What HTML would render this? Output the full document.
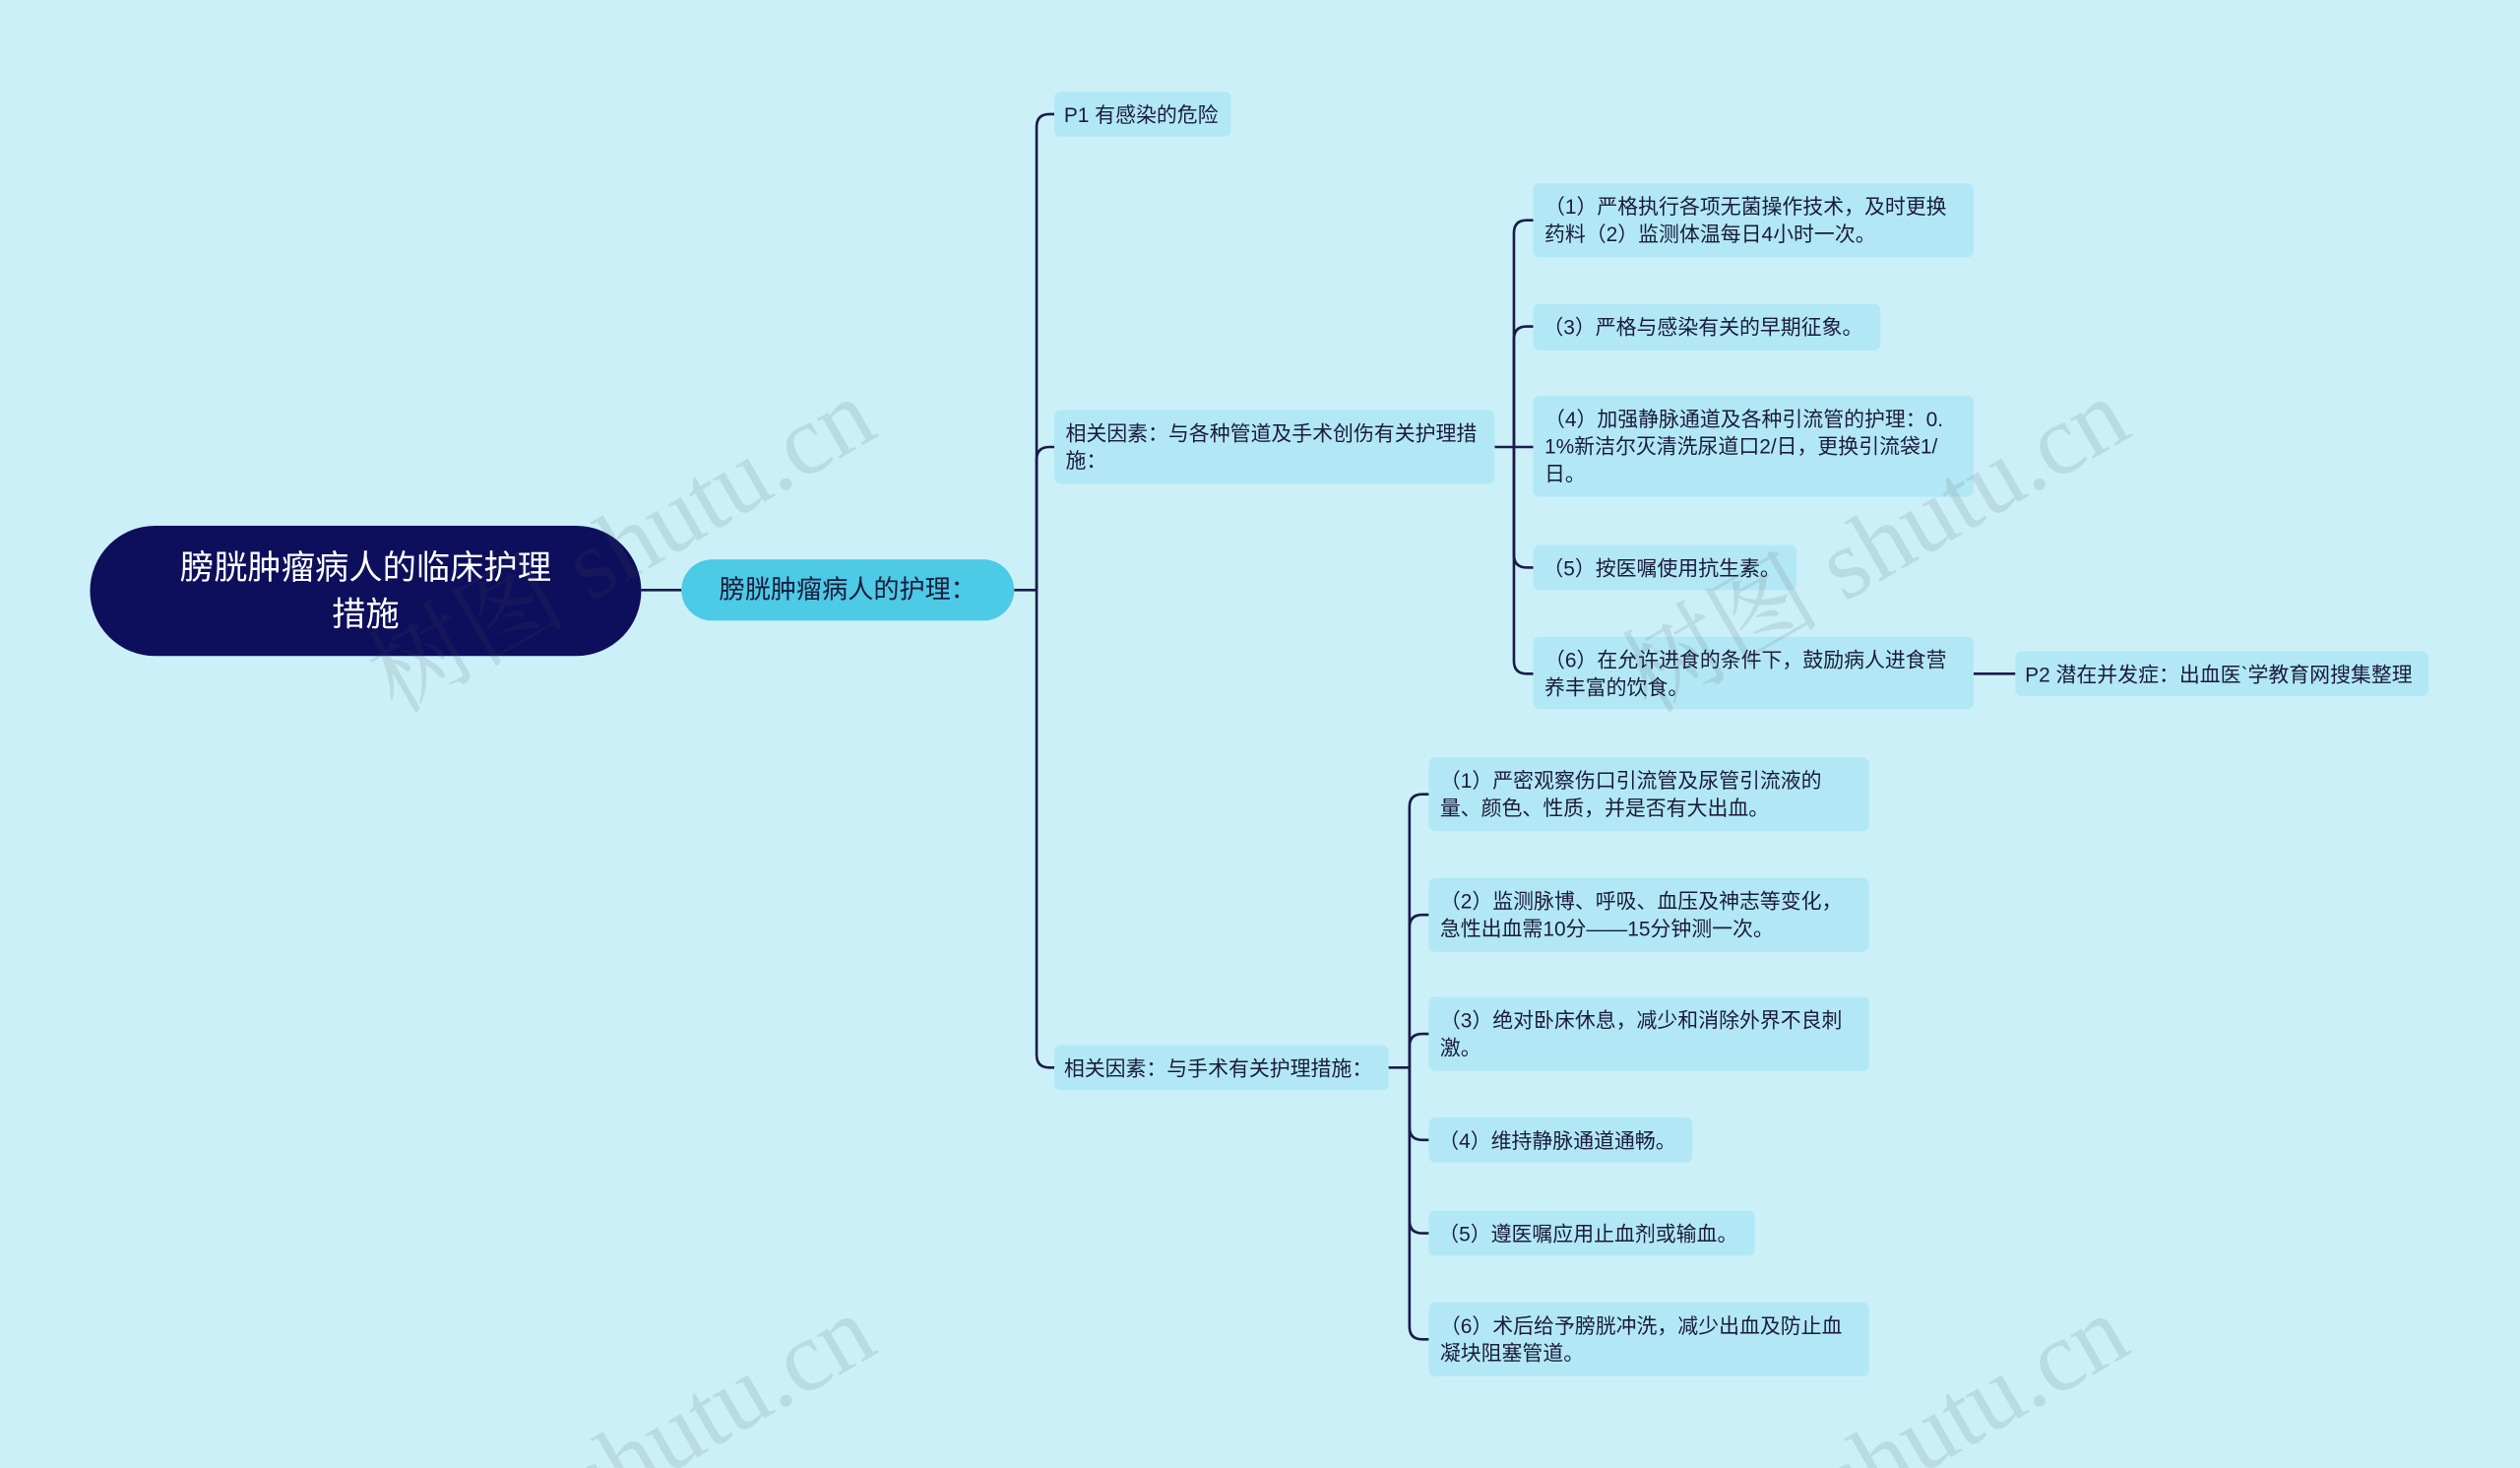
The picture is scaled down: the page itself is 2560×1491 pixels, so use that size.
<!DOCTYPE html>
<html><head><meta charset="utf-8"><style>
html,body{margin:0;padding:0;background:#cbf0f8;overflow:hidden;width:2560px;height:1491px}
#clip{position:absolute;left:0;top:0;width:2560px;height:1491px;overflow:hidden}
#w{position:absolute;left:0;top:0;width:1568px;height:913px;overflow:hidden;transform:scale(1.63265,1.63308);transform-origin:0 0;font-family:"Liberation Sans","Noto Sans CJK SC",sans-serif}
.n{position:absolute;box-sizing:border-box;background:#b2e8f5;border-radius:4px;font-size:12.8px;line-height:17px;color:#1b1b3a;padding:0 7px;display:flex;align-items:center}
.s{white-space:nowrap;padding:0 6px}
.wm{position:absolute;font-size:62px;color:rgba(80,80,80,0.13);transform:rotate(-30deg);white-space:nowrap;font-family:"Liberation Serif","Noto Serif CJK SC",serif}
</style></head><body><div id="clip"><div id="w">
<svg width="1568" height="913" style="position:absolute;left:0;top:0" fill="none" stroke="#1a1a4a" stroke-width="1.6">
<path d="M399 367H424M631 367H645"/>
<path d="M645 367V79Q645 71 653 71H656"/>
<path d="M645 367V286Q645 278 653 278H656"/>
<path d="M645 367V656Q645 664 653 664H656"/>
<path d="M930 278H942"/>
<path d="M942 278V145Q942 137 950 137H954"/>
<path d="M942 278V211Q942 203 950 203H954"/>
<path d="M942 278H954"/>
<path d="M942 278V345Q942 353 950 353H954"/>
<path d="M942 278V411Q942 419 950 419H954"/>
<path d="M1228 419H1254"/>
<path d="M864 664H877"/>
<path d="M877 664V502Q877 494 885 494H889"/>
<path d="M877 664V577Q877 569 885 569H889"/>
<path d="M877 664V651Q877 643 885 643H889"/>
<path d="M877 664V701Q877 709 885 709H889"/>
<path d="M877 664V759Q877 767 885 767H889"/>
<path d="M877 664V825Q877 833 885 833H889"/>
</svg>
<div class="n" style="left:56px;top:327px;width:343px;height:81px;border-radius:41px;background:#0d0f5c;color:#fff;font-size:21px;line-height:29px;justify-content:center;text-align:center;padding:0 46px">膀胱肿瘤病人的临床护理措施</div>
<div class="n s" style="left:424px;top:348px;width:207px;height:38px;border-radius:19px;background:#4ccae6;font-size:16px;justify-content:center">膀胱肿瘤病人的护理：</div>
<div class="n s" style="left:656px;top:57px;width:110px;height:28px">P1 有感染的危险</div>
<div class="n" style="left:656px;top:255px;width:274px;height:46px">相关因素：与各种管道及手术创伤有关护理措施：</div>
<div class="n s" style="left:656px;top:650px;width:208px;height:28px">相关因素：与手术有关护理措施：</div>
<div class="n" style="left:954px;top:114px;width:274px;height:46px">（1）严格执行各项无菌操作技术，及时更换药料（2）监测体温每日4小时一次。</div>
<div class="n s" style="left:954px;top:189px;width:216px;height:29px">（3）严格与感染有关的早期征象。</div>
<div class="n" style="left:954px;top:246px;width:274px;height:63px;word-break:break-all">（4）加强静脉通道及各种引流管的护理：0.1%新洁尔灭清洗尿道口2/日，更换引流袋1/日。</div>
<div class="n s" style="left:954px;top:339px;width:164px;height:28px">（5）按医嘱使用抗生素。</div>
<div class="n" style="left:954px;top:396px;width:274px;height:45px">（6）在允许进食的条件下，鼓励病人进食营养丰富的饮食。</div>
<div class="n s" style="left:1254px;top:405px;width:257px;height:28px">P2 潜在并发症：出血医`学教育网搜集整理</div>
<div class="n" style="left:889px;top:471px;width:274px;height:46px">（1）严密观察伤口引流管及尿管引流液的量、颜色、性质，并是否有大出血。</div>
<div class="n" style="left:889px;top:546px;width:274px;height:46px">（2）监测脉博、呼吸、血压及神志等变化，急性出血需10分——15分钟测一次。</div>
<div class="n" style="left:889px;top:620px;width:274px;height:46px">（3）绝对卧床休息，减少和消除外界不良刺激。</div>
<div class="n s" style="left:889px;top:695px;width:164px;height:28px">（4）维持静脉通道通畅。</div>
<div class="n s" style="left:889px;top:753px;width:203px;height:28px">（5）遵医嘱应用止血剂或输血。</div>
<div class="n" style="left:889px;top:810px;width:274px;height:46px">（6）术后给予膀胱冲洗，减少出血及防止血凝块阻塞管道。</div>
<div class="wm" style="left:210px;top:290px">树图 shutu.cn</div>
<div class="wm" style="left:990px;top:290px">树图 shutu.cn</div>
<div class="wm" style="left:210px;top:860px">树图 shutu.cn</div>
<div class="wm" style="left:990px;top:860px">树图 shutu.cn</div>
</div></div></body></html>
